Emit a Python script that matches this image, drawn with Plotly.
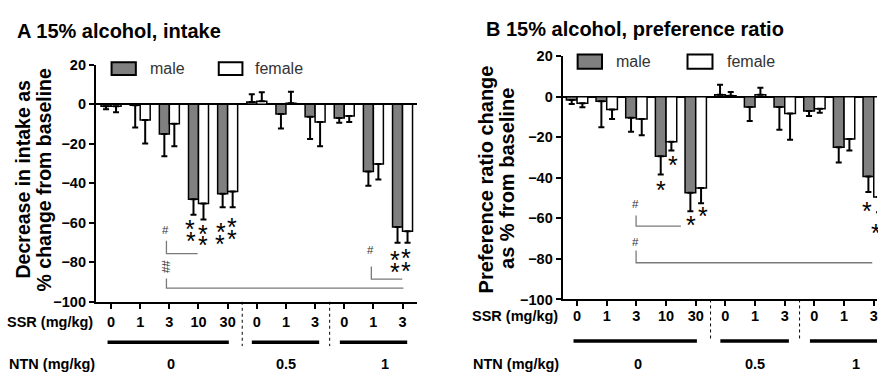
import plotly.graph_objects as go

W, H = 878, 379

# ---------------- data ----------------
ssr_labels = ["0", "1", "3", "10", "30", "0", "1", "3", "0", "1", "3"]
ntn_labels = ["0", "0.5", "1"]
groups = list(range(len(ssr_labels)))

# Panel A: intake, % change from baseline (mean, SEM)
intake_male = [-1, -0.5, -15, -48.1, -45.3, 1.2, -4.9, -6.3, -6.9, -34, -62.2]
intake_male_sem = [1.5, 11.2, 11.3, 7.9, 6.8, 3.9, 7.3, 11.3, 2.4, 7.3, 7.9]
intake_female = [-1, -7.9, -9.9, -50.2, -44.2, 1.5, 0.5, -9, -5.9, -30.2, -64.3]
intake_female_sem = [3, 11.9, 11.4, 8.1, 7.9, 4.6, 5.9, 12.3, 3.1, 7.9, 5.8]

# Panel B: preference ratio, % change from baseline (mean, SEM)
pref_male = [-1.6, -2.2, -10.3, -29.3, -47.4, 1.0, -5, -5, -7, -24.9, -39.3]
pref_male_sem = [2, 12.8, 7, 9.1, 9.1, 5, 6.9, 11.2, 2.5, 7.5, 7.7]
pref_female = [-3.2, -6.3, -11, -22.2, -45, 0.5, 1.0, -8.2, -5.9, -20.8, -49.5]
pref_female_sem = [2, 4.7, 8, 4.3, 7.5, 1.9, 3.5, 13, 2, 5.7, 7.5]

# ---------------- helpers ----------------
FONT = "Liberation Sans, Arial, sans-serif"
GRAY = "#808080"


def px(x):
    return x / W


def py(y):
    return 1 - y / H


def err_up(vals, sems):
    return [s if v >= 0 else 0 for v, s in zip(vals, sems)]


def err_down(vals, sems):
    return [s if v < 0 else 0 for v, s in zip(vals, sems)]


fig = go.Figure()

panels = [
    dict(xa="x", ya="y", male=intake_male, msem=intake_male_sem,
         female=intake_female, fsem=intake_female_sem, w=0.343),
    dict(xa="x2", ya="y2", male=pref_male, msem=pref_male_sem,
         female=pref_female, fsem=pref_female_sem, w=0.36),
]

for p in panels:
    for name, vals, sems, color, off in [
        ("male", p["male"], p["msem"], GRAY, -p["w"]),
        ("female", p["female"], p["fsem"], "white", 0),
    ]:
        fig.add_trace(go.Bar(
            x=groups, y=vals, name=name, xaxis=p["xa"], yaxis=p["ya"],
            width=p["w"], offset=off,
            marker=dict(color=color, line=dict(color="black", width=1.5)),
            error_y=dict(type="data", symmetric=False,
                         array=err_up(vals, sems),
                         arrayminus=err_down(vals, sems),
                         color="black", thickness=2, width=3),
            showlegend=False,
        ))

tickfont = dict(family=FONT, size=14.5, color="black", weight="bold")
common_y = dict(range=[-100, 20], tickvals=[-100, -80, -60, -40, -20, 0, 20],
                showline=True, linecolor="black", linewidth=2,
                ticks="outside", ticklen=5, tickwidth=2, tickcolor="black",
                zeroline=True, zerolinecolor="black", zerolinewidth=2,
                showgrid=False, tickfont=tickfont, fixedrange=True)
common_x = dict(tickvals=groups, ticktext=ssr_labels,
                showline=True, linecolor="black", linewidth=2,
                ticks="outside", ticklen=5, tickwidth=2, tickcolor="black",
                zeroline=False, showgrid=False, tickfont=tickfont,
                ticklabeloverflow="allow")

fig.update_layout(
    width=W, height=H,
    margin=dict(l=0, r=0, t=0, b=0),
    paper_bgcolor="white", plot_bgcolor="white",
    barmode="overlay",
    font=dict(family=FONT, color="black"),
    xaxis=dict(domain=[px(96), px(417)], range=[-0.52, 10.48], anchor="y",
               ticklabelstandoff=1, **common_x),
    yaxis=dict(domain=[py(306.7), py(59.3)], anchor="x", **common_y),
    xaxis2=dict(domain=[px(563.3), 1.0], range=[-0.485, 10.11], anchor="y2",
                ticklabelstandoff=-3, **common_x),
    yaxis2=dict(domain=[py(304.3), py(50.4)], anchor="x2", **common_y),
)

annotations = []
shapes = []


def txt(x, y, text, size, xref="paper", yref="paper", xanchor="center",
        yanchor="middle", bold=False, color="black", angle=0, yshift=0):
    annotations.append(dict(
        x=x, y=y, xref=xref, yref=yref, text=text, showarrow=False,
        xanchor=xanchor, yanchor=yanchor, textangle=angle, yshift=yshift,
        font=dict(family=FONT, size=size, color=color,
                  weight="bold" if bold else "normal")))


# titles
txt(px(15), py(24.5), "A 15% alcohol, intake", 20, xanchor="left", bold=True)
txt(px(485), py(21.5), "B 15% alcohol, preference ratio", 20, xanchor="left", bold=True)

# y-axis titles (two lines each)
txt(px(24), py(178), "Decrease in intake as", 19.5, bold=True, angle=-90)
txt(px(44), py(179), "% change from baseline", 19.5, bold=True, angle=-90)
txt(px(487), py(178.5), "Preference ratio change", 20, bold=True, angle=-90)
txt(px(507.5), py(177.5), "as % from baseline", 20, bold=True, angle=-90)

# legends (manual)
legend_specs = [
    # (swatch x0, x1, y_top, y_bottom, text_x, text_y, fill, label)
    (111.7, 136, 56.7, 70, 148.5, 63.5, GRAY, "male"),
    (219, 242.7, 56.7, 70, 253, 63.5, "white", "female"),
    (578.3, 602.7, 48.5, 63.3, 615, 56, GRAY, "male"),
    (688.3, 713.3, 48.5, 63.3, 726, 56, "white", "female"),
]
for x0, x1, yt, yb, tx, ty, fill, lab in legend_specs:
    shapes.append(dict(type="rect", xref="paper", yref="paper",
                       x0=px(x0), x1=px(x1), y0=py(yb), y1=py(yt),
                       fillcolor=fill, line=dict(color="black", width=2)))
    txt(px(tx), py(ty), lab, 16, xanchor="left", color="#333333")

# bottom labels
for xa, ssr_x, ntn_x, ssr_y, dash_bottom, thick_y in [
    ("x", 95, 96.7, 328, 353, 349),
    ("x2", 560.7, 561.7, 322, 346.7, 347.7),
]:
    txt(px(ssr_x), py(ssr_y), "SSR (mg/kg)", 14.5, xanchor="right", bold=True)
    txt(px(ntn_x), py(372), "NTN (mg/kg)", 14.5, xanchor="right", bold=True)
    ax_bottom = 306.7 if xa == "x" else 304.3
    for xd in [4.5, 7.5]:
        shapes.append(dict(type="line", xref=xa, yref="paper",
                           x0=xd, x1=xd, y0=py(ax_bottom), y1=py(dash_bottom),
                           line=dict(color="black", width=1, dash="dot")))
    for x0, x1 in [(-0.12, 4.04), (4.83, 7.14), (7.85, 10.16)]:
        shapes.append(dict(type="line", xref=xa, yref="paper",
                           x0=x0, x1=x1, y0=py(thick_y), y1=py(thick_y),
                           line=dict(color="black", width=3.5)))
    for lab, xc in zip(ntn_labels, [2.06, 6.0, 9.39]):
        txt(xc, py(372), lab, 14.5, xref=xa, bold=True)

# significance brackets: (axis, ya, x_start, x_end, y_top, y_bottom)
brackets = [
    ("x", "y", 1.9, 2.97, -69.1, -75.6),
    ("x", "y", 1.9, 10.03, -88.2, -93.1),
    ("x", "y", 8.93, 9.99, -82.1, -88.5),
    ("x2", "y2", 1.99, 3.5, -58.6, -63.8),
    ("x2", "y2", 1.99, 9.95, -75.9, -81.9),
]
for xa, ya, x0, x1, yt, yb in brackets:
    shapes.append(dict(type="path", xref=xa, yref=ya,
                       path=f"M {x0},{yt} L {x0},{yb} L {x1},{yb}",
                       line=dict(color="#7a7a7a", width=1.3)))

hashes = [
    ("x", "y", 1.88, -63.5, "#", 0),
    ("x", "y", 1.88, -82, "##", -90),
    ("x", "y", 8.9, -73.7, "#", 0),
    ("x2", "y2", 1.98, -53.1, "#", 0),
    ("x2", "y2", 1.98, -71.7, "#", 0),
]
for xa, ya, xv, yv, t, ang in hashes:
    txt(xv, yv, t, 11.5, xref=xa, yref=ya, color="#333333", angle=ang)

stars = [
    ("x", "y", 2.72, -61.2), ("x", "y", 2.74, -67.5),
    ("x", "y", 3.14, -64.0), ("x", "y", 3.14, -69.6),
    ("x", "y", 3.76, -62.7), ("x", "y", 3.74, -69.1),
    ("x", "y", 4.15, -60.2), ("x", "y", 4.15, -66.4),
    ("x", "y", 9.74, -76.9), ("x", "y", 9.74, -83.0),
    ("x", "y", 10.13, -76.1), ("x", "y", 10.13, -82.5),
    ("x2", "y2", 2.83, -44.1), ("x2", "y2", 3.22, -31.8),
    ("x2", "y2", 3.84, -61.4), ("x2", "y2", 4.23, -57.3),
    ("x2", "y2", 9.78, -54.6), ("x2", "y2", 10.09, -65.7),
]
for xa, ya, xv, yv in stars:
    txt(xv, yv, "*", 25, xref=xa, yref=ya, color="black", yshift=-3.5)

fig.update_layout(annotations=annotations, shapes=shapes)

fig.write_html("out.html", config={"displayModeBar": False})
